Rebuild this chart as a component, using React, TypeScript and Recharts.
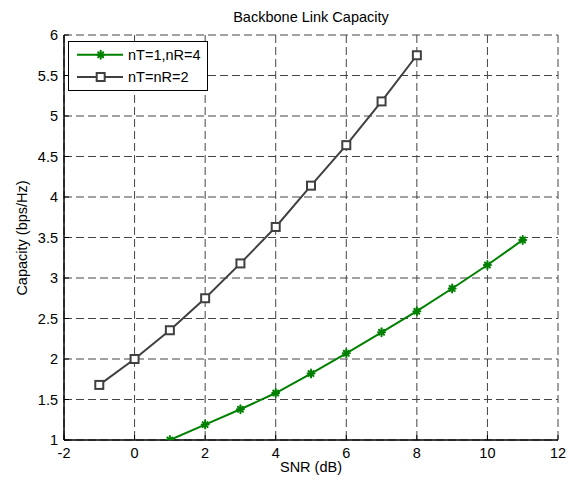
import React from 'react';
import { LineChart, Line, XAxis, YAxis, CartesianGrid } from 'recharts';

const snrGreen = [1, 2, 3, 4, 5, 6, 7, 8, 9, 10, 11];
const capGreen = [1.0, 1.19, 1.38, 1.58, 1.82, 2.07, 2.33, 2.59, 2.87, 3.16, 3.47];
const snrGray = [-1, 0, 1, 2, 3, 4, 5, 6, 7, 8];
const capGray = [1.68, 2.0, 2.355, 2.75, 3.18, 3.63, 4.14, 4.64, 5.18, 5.75];
const xTicks = [-2, 0, 2, 4, 6, 8, 10, 12];
const yTicks = [1, 1.5, 2, 2.5, 3, 3.5, 4, 4.5, 5, 5.5, 6];
const seriesNames = ['nT=1,nR=4', 'nT=nR=2'];
const titleText = 'Backbone Link Capacity';
const xLabel = 'SNR (dB)';
const yLabel = 'Capacity (bps/Hz)';

const GREEN = '#008000';
const GRAY = '#404040';
const FONT = '"Liberation Sans", Arial, sans-serif';
const FS = 14.5;

const greenData = snrGreen.map((x, i) => ({ x, y: capGreen[i] }));
const grayData = snrGray.map((x, i) => ({ x, y: capGray[i] }));

const Star = ({ cx, cy }: { cx: number; cy: number }) => (
  <g stroke={GREEN} strokeWidth={2} strokeLinecap="round">
    <line x1={cx - 3.5} y1={cy} x2={cx + 3.5} y2={cy} />
    <line x1={cx} y1={cy - 4} x2={cx} y2={cy + 4} />
    <line x1={cx - 2.5} y1={cy - 2.5} x2={cx + 2.5} y2={cy + 2.5} />
    <line x1={cx - 2.5} y1={cy + 2.5} x2={cx + 2.5} y2={cy - 2.5} />
  </g>
);

const Square = ({ cx, cy }: { cx: number; cy: number }) => (
  <rect x={cx - 4} y={cy - 4} width={8} height={8} fill="#fff" stroke={GRAY} strokeWidth={2} />
);

const axisLine = { stroke: '#000', strokeWidth: 1.5 };
const tickLine = { stroke: '#000', strokeWidth: 1 };
const tickStyle = { fill: '#000', fontSize: FS, fontFamily: FONT };
const hidden = { fill: 'none', fontSize: FS };

export default function App() {
  return (
    <div style={{ position: 'absolute', left: 0, top: 0, width: 576, height: 486, background: '#fff', fontFamily: FONT }}>
      <LineChart width={576} height={486} margin={{ top: 35, right: 18, left: 0, bottom: 0 }}>
        <CartesianGrid stroke="#444" strokeDasharray="8 4" />
        <XAxis
          dataKey="x"
          type="number"
          domain={[-2, 12]}
          ticks={xTicks}
          allowDataOverflow
          height={46}
          axisLine={axisLine}
          tickLine={tickLine}
          tickSize={-5}
          tickMargin={13}
          tick={tickStyle}
          interval={0}
        />
        <XAxis
          xAxisId="top"
          orientation="top"
          type="number"
          domain={[-2, 12]}
          ticks={xTicks}
          allowDataOverflow
          height={0}
          axisLine={axisLine}
          tickLine={tickLine}
          tickSize={-5}
          tick={hidden}
          interval={0}
        />
        <YAxis
          type="number"
          domain={[1, 6]}
          ticks={yTicks}
          allowDataOverflow
          width={64}
          axisLine={axisLine}
          tickLine={tickLine}
          tickSize={-5}
          tickMargin={11}
          tick={tickStyle}
          interval={0}
        />
        <YAxis
          yAxisId="right"
          orientation="right"
          type="number"
          domain={[1, 6]}
          ticks={yTicks}
          allowDataOverflow
          width={0}
          axisLine={axisLine}
          tickLine={tickLine}
          tickSize={-5}
          tick={hidden}
          interval={0}
        />
        <Line
          data={grayData}
          dataKey="y"
          stroke={GRAY}
          strokeWidth={2}
          isAnimationActive={false}
          dot={(p: any) => <Square key={`s-${p.index}`} cx={p.cx} cy={p.cy} />}
        />
        <Line
          data={greenData}
          dataKey="y"
          stroke={GREEN}
          strokeWidth={2}
          isAnimationActive={false}
          dot={(p: any) => <Star key={`g-${p.index}`} cx={p.cx} cy={p.cy} />}
        />
      </LineChart>
      <div
        style={{
          position: 'absolute', left: 64, width: 494, top: 10, lineHeight: '15px',
          textAlign: 'center', fontSize: FS, color: '#000',
        }}
      >
        {titleText}
      </div>
      <div
        style={{
          position: 'absolute', left: 64, width: 494, top: 460, lineHeight: '15px',
          textAlign: 'center', fontSize: FS, color: '#000',
        }}
      >
        {xLabel}
      </div>
      <div
        style={{
          position: 'absolute', left: 22, top: 238, fontSize: FS, color: '#000', lineHeight: '15px',
          whiteSpace: 'nowrap', transform: 'translate(-50%, -50%) rotate(-90deg)',
        }}
      >
        {yLabel}
      </div>
      <div
        style={{
          position: 'absolute', left: 68, top: 41, width: 140, height: 50, boxSizing: 'border-box',
          border: '1.5px solid #000', background: '#fff',
        }}
      >
        <svg width={140} height={50} style={{ position: 'absolute', left: -1.5, top: -1.5 }}>
          <line x1={9} y1={13.7} x2={55} y2={13.7} stroke={GREEN} strokeWidth={2} />
          <Star cx={32.7} cy={13.7} />
          <text x={60} y={18.7} fontSize={FS} fontFamily={FONT} fill="#000">{seriesNames[0]}</text>
          <line x1={9} y1={36} x2={55} y2={36} stroke={GRAY} strokeWidth={2} />
          <Square cx={32.7} cy={36} />
          <text x={60} y={41} fontSize={FS} fontFamily={FONT} fill="#000">{seriesNames[1]}</text>
        </svg>
      </div>
    </div>
  );
}
